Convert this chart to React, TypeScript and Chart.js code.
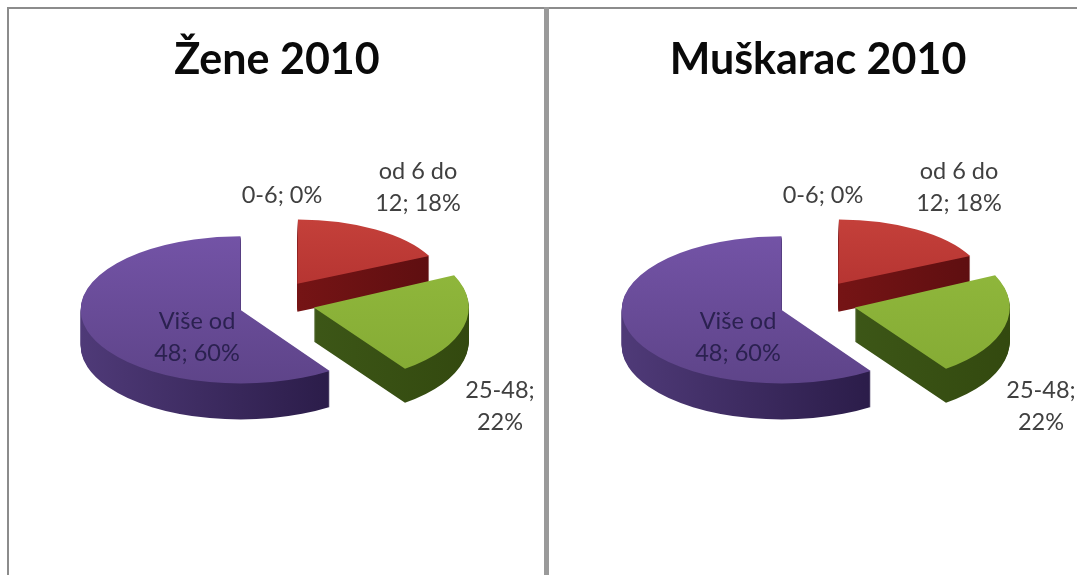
import React, { useEffect, useRef } from "react";
import { Chart, registerables } from "chart.js";

Chart.register(...registerables);

const categories = ["0-6", "od 6 do 12", "25-48", "Više od 48"];
const womenValues = [0, 18, 22, 60];
const menValues = [0, 18, 22, 60];
const womenTitle = "Žene 2010";
const menTitle = "Muškarac 2010";
const sliceLabelLines = [["0-6; 0%"], ["od 6 do", "12; 18%"], ["25-48;", "22%"], ["Više od", "48; 60%"]];
const labelColors = ["#404040", "#404040", "#404040", "#2b2150"];
const topColors = [
  ["#4f81bd", "#4f81bd"],
  ["#c4403a", "#a92a2a"],
  ["#93bb3e", "#84aa34"],
  ["#7353a6", "#5e4489"],
];
const sideColors = [
  ["#2b4a70", "#2b4a70"],
  ["#8f1a1a", "#5c0e10"],
  ["#46641f", "#33490f"],
  ["#4f3a78", "#21143c"],
];

// Perspective look: the slices at the back read a little smaller and flatter.
const sliceRadius = [155, 146, 155, 160];
const sliceSquash = [0.45, 0.44, 0.49, 0.46];
const sliceLift = [0, -3, 2, 4];
const sliceDepth = [30, 28, 34, 36];
const EXPLODE = 38;
const WIDE_ARC_END_FIX = 0.037;
const labelOffsets = [
  [5, -105],
  [141, -113],
  [223, 106],
  [-80, 37],
];

const pie3d = {
  id: "pie3d",
  beforeDatasetsDraw(chart: any) {
    const ctx = chart.ctx;
    const arcs = chart.getDatasetMeta(0).data;
    arcs.forEach((arc: any, i: number) => {
      const base = arc.options;
      const baseRadius = arc.outerRadius;
      const baseEnd = arc.endAngle;
      const R = sliceRadius[i];
      // ArcElement widens a slice by offset * fix; cancel that so that the radius is R.
      const fix = 1 - Math.sin(Math.min(Math.PI, arc.circumference || 0));
      arc.outerRadius = R - EXPLODE * fix;
      if (arc.circumference > Math.PI) arc.endAngle = baseEnd + WIDE_ARC_END_FIX;
      const side = ctx.createLinearGradient(arc.x - R, 0, arc.x + R, 0);
      side.addColorStop(0, sideColors[i][0]);
      side.addColorStop(1, sideColors[i][1]);
      const top = ctx.createLinearGradient(0, arc.y - R, 0, arc.y + R);
      top.addColorStop(0, topColors[i][0]);
      top.addColorStop(1, topColors[i][1]);
      const paint = (dy: number, fill: any) => {
        ctx.save();
        ctx.translate(arc.x, arc.y + sliceLift[i] + dy);
        ctx.scale(1, sliceSquash[i]);
        ctx.translate(-arc.x, -arc.y);
        arc.options = { ...base, backgroundColor: fill, borderWidth: 0, offset: base.offset };
        arc.draw(ctx);
        ctx.restore();
      };
      for (let dy = sliceDepth[i]; dy > 0; dy--) paint(dy, side);
      paint(0, top);
      arc.options = base;
      arc.outerRadius = baseRadius;
      arc.endAngle = baseEnd;
    });
    return false;
  },
  afterDraw(chart: any) {
    const ctx = chart.ctx;
    const arc = chart.getDatasetMeta(0).data[0];
    ctx.save();
    ctx.font = '23.5px Lato, "Open Sans", sans-serif';
    ctx.textAlign = "center";
    ctx.textBaseline = "middle";
    sliceLabelLines.forEach((lines, i) => {
      ctx.fillStyle = labelColors[i];
      const [ox, oy] = labelOffsets[i];
      lines.forEach((line, j) => {
        ctx.fillText(line, arc.x + ox, arc.y + oy + (j - (lines.length - 1) / 2) * 32);
      });
    });
    ctx.restore();
  },
};

function Panel({ title, values, left }: { title: string; values: number[]; left: number }) {
  const ref = useRef<HTMLCanvasElement>(null);
  useEffect(() => {
    const chart = new Chart(ref.current as HTMLCanvasElement, {
      type: "pie",
      data: {
        labels: categories,
        datasets: [
          {
            data: values,
            radius: 155,
            offset: EXPLODE * 4,
            borderWidth: 0,
            backgroundColor: topColors.map((c) => c[0]),
          } as any,
        ],
      },
      options: {
        animation: false,
        responsive: false,
        devicePixelRatio: 1,
        layout: { padding: { bottom: 59 } },
        plugins: {
          legend: { display: false },
          tooltip: { enabled: false },
          title: {
            display: true,
            text: title,
            color: "#0a0a0a",
            font: { family: 'Lato, "Open Sans", sans-serif', size: 43, weight: "bold", lineHeight: 1.2 },
            padding: { top: 34, bottom: 0 },
          },
        },
      },
      plugins: [pie3d as any],
    });
    return () => chart.destroy();
  }, [title, values]);
  return (
    <canvas
      ref={ref}
      width={554}
      height={575}
      style={{ position: "absolute", left, top: 0, width: 554, height: 575, filter: "blur(0.5px)" }}
    />
  );
}

export default function App() {
  return (
    <div
      style={{
        position: "absolute",
        left: 0,
        top: 0,
        width: 1077,
        height: 575,
        overflow: "hidden",
        background: "#ffffff",
      }}
    >
      <div style={{ position: "absolute", left: 7, top: 7, width: 1070, height: 2, background: "#8c8c8c" }} />
      <div style={{ position: "absolute", left: 7, top: 7, width: 2, height: 568, background: "#8c8c8c" }} />
      <div style={{ position: "absolute", left: 544, top: 7, width: 5, height: 568, background: "#9a9a9a" }} />
      <Panel title={womenTitle} values={womenValues} left={0} />
      <Panel title={menTitle} values={menValues} left={541} />
    </div>
  );
}
